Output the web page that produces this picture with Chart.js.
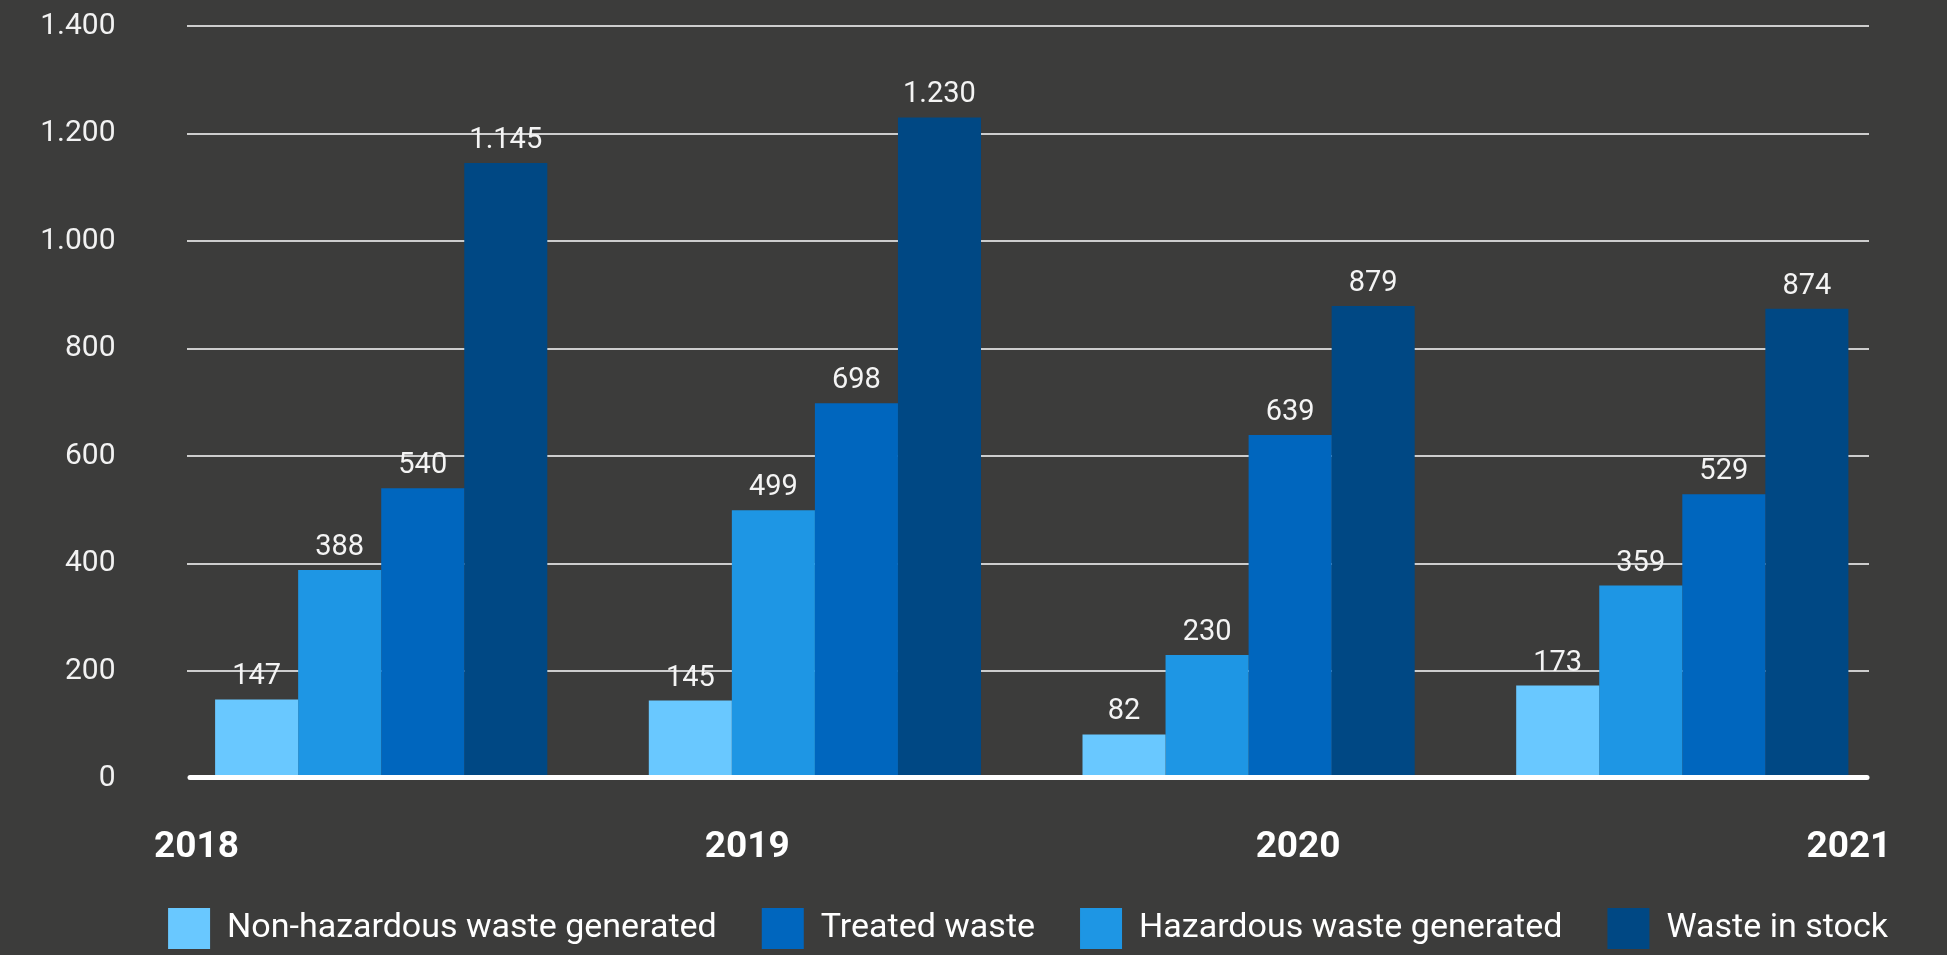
<!DOCTYPE html>
<html>
<head>
<meta charset="utf-8">
<script src="https://cdn.jsdelivr.net/npm/chart.js@4.4.1/dist/chart.umd.min.js"></script>
<style>
  html, body { margin: 0; padding: 0; background: #3c3c3b; }
  canvas { display: block; }
</style>
</head>
<body>
<canvas id="chart" width="1947" height="955"></canvas>
<script>
// Waste volumes per year
const categories = ['2018', '2019', '2020', '2021'];
const nonHazardous = [147, 145, 82, 173];
const hazardous = [388, 499, 230, 359];
const treated = [540, 698, 639, 529];
const inStock = [1145, 1230, 879, 874];
const yTicks = [0, 200, 400, 600, 800, 1000, 1200, 1400];

const seriesNames = ['Non-hazardous waste generated', 'Hazardous waste generated', 'Treated waste', 'Waste in stock'];
const seriesColors = ['#69c8ff', '#1e96e4', '#0066be', '#004884'];
const legendOrder = [0, 2, 1, 3];

const FONT = 'Roboto, "Liberation Sans", sans-serif';
const fmt = v => String(v).replace(/\B(?=(\d{3})+(?!\d))/g, '.');

const series = [nonHazardous, hazardous, treated, inStock];
const datasets = series.map((vals, k) => ({
  label: seriesNames[k],
  data: vals.map((v, i) => ({ x: i, y: v })),
  backgroundColor: seriesColors[k],
  borderWidth: 0,
  xAxisID: 'x',
  yAxisID: 'y'
}));

const indexTicks = scale => { scale.ticks = categories.map((c, i) => ({ value: i })); };

// white baseline drawn over the bar feet
const zeroLine = {
  id: 'zeroLine',
  afterDatasetsDraw(chart) {
    const { ctx, chartArea: a, scales: { y } } = chart;
    const py = y.getPixelForValue(0) - 1;
    ctx.save();
    ctx.strokeStyle = '#ffffff';
    ctx.lineWidth = 5;
    ctx.lineCap = 'round';
    ctx.beginPath();
    ctx.moveTo(a.left + 3, py);
    ctx.lineTo(a.right - 2, py);
    ctx.stroke();
    ctx.restore();
  }
};

// value printed above every bar
const valueLabels = {
  id: 'valueLabels',
  afterDatasetsDraw(chart) {
    const ctx = chart.ctx;
    ctx.save();
    ctx.font = '29px ' + FONT;
    ctx.fillStyle = '#f4f4f4';
    ctx.textAlign = 'center';
    ctx.textBaseline = 'alphabetic';
    series.forEach((vals, k) => {
      chart.getDatasetMeta(k).data.forEach((bar, i) => {
        ctx.fillText(fmt(vals[i]), bar.x, bar.y - 15);
      });
    });
    ctx.restore();
  }
};

// keep the legend row centred under the plot area
const legendCentre = {
  id: 'legendCentre',
  afterLayout(chart) {
    const lg = chart.legend, a = chart.chartArea;
    const dx = (a.left + a.right) / 2 - (lg.left + lg.right) / 2;
    lg.left += dx;
    lg.right += dx;
  }
};

new Chart(document.getElementById('chart'), {
  type: 'bar',
  data: { datasets },
  plugins: [zeroLine, valueLabels, legendCentre],
  options: {
    responsive: false,
    devicePixelRatio: 1,
    animation: false,
    events: [],
    layout: { padding: { top: 26, right: 78, bottom: -4, left: 0 } },
    datasets: { bar: { categoryPercentage: 0.766, barPercentage: 1 } },
    scales: {
      x: {
        type: 'linear',
        offset: false,
        min: -0.4478,
        max: 3.4305,
        display: false,
        grid: { offset: false },
        afterBuildTicks: indexTicks
      },
      xl: {
        type: 'linear',
        position: 'bottom',
        offset: false,
        min: -0.01725,
        max: 3.0365,
        afterBuildTicks: indexTicks,
        grid: { display: false, drawTicks: false, offset: false },
        border: { display: false },
        ticks: {
          callback: v => categories[v],
          color: '#ffffff',
          font: { family: FONT, size: 37, weight: 'bold' },
          padding: 46.8,
          autoSkip: false,
          maxRotation: 0
        },
        afterFit: s => { s.height = 84.5; }
      },
      y: {
        min: 0,
        max: 1400,
        afterBuildTicks: s => { s.ticks = yTicks.map(v => ({ value: v })); },
        grid: {
          color: c => (c.tick && c.tick.value === 0) ? 'rgba(0,0,0,0)' : '#cdcdcd',
          lineWidth: 2,
          drawTicks: true,
          tickLength: 71.5,
          tickColor: 'rgba(0,0,0,0)'
        },
        border: { display: false },
        ticks: {
          callback: v => fmt(v),
          color: '#f2f2f2',
          font: { family: FONT, size: 30 },
          padding: 0
        },
        afterFit: s => { s.width = 187; }
      }
    },
    plugins: {
      tooltip: { enabled: false },
      legend: {
        position: 'bottom',
        labels: {
          boxWidth: 42,
          boxHeight: 41,
          padding: 45,
          color: '#ffffff',
          font: { family: FONT, size: 34 },
          sort: (a, b) => legendOrder.indexOf(a.datasetIndex) - legendOrder.indexOf(b.datasetIndex)
        }
      }
    }
  }
});
</script>
</body>
</html>
